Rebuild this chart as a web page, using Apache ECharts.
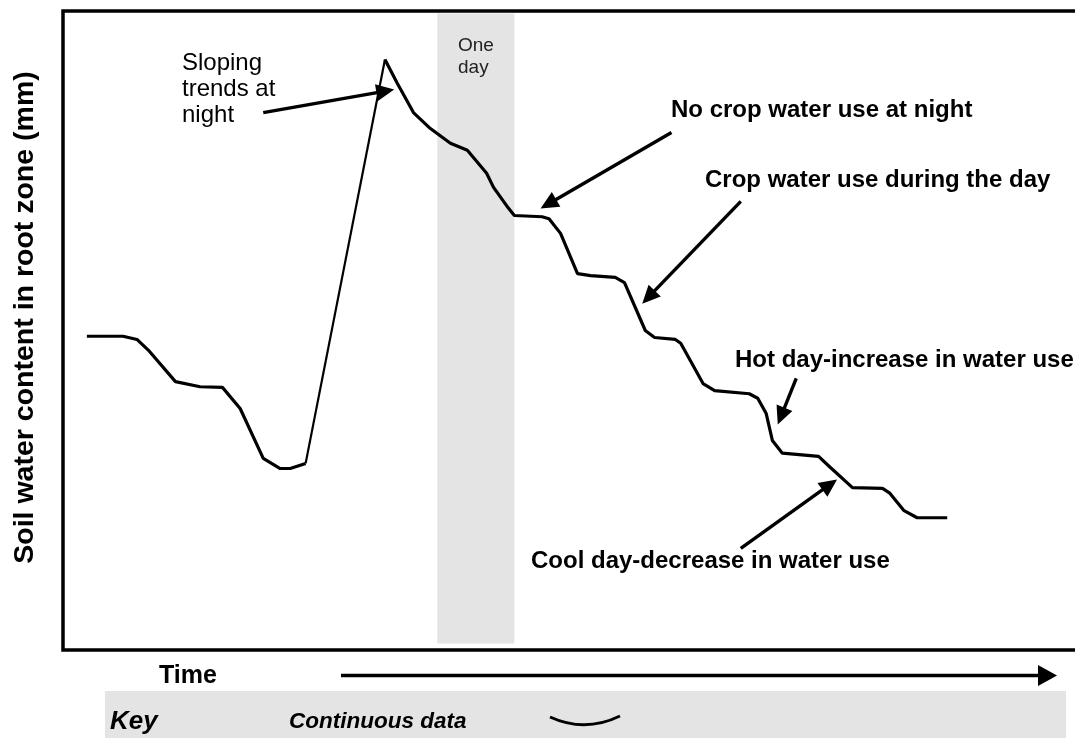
<!DOCTYPE html>
<html>
<head>
<meta charset="utf-8">
<title>Soil water content in root zone</title>
<script src="https://cdn.jsdelivr.net/npm/echarts@6/dist/echarts.min.js"></script>
<style>
  html, body { margin: 0; padding: 0; background: #fff; }
  #main { width: 1075px; height: 738px; }
</style>
</head>
<body>
<div id="main"></div>
<script>
// time in days, soil water content in mm
const dryingDays  = [0.45, 0.92, 1.10, 1.25, 1.60, 1.92, 2.21, 2.44, 2.74, 2.96, 3.09, 3.29];
const dryingWater = [49.1, 49.1, 48.6, 46.9, 42.0, 41.2, 41.1, 37.8, 30.0, 28.4, 28.4, 29.2];

// the refill after rain / irrigation
const refillDays  = [3.29, 4.32];
const refillWater = [29.2, 92.4];

const afterDays  = [4.32, 4.48, 4.69, 4.91, 5.17, 5.39, 5.64, 5.73, 5.92, 6.00,
                    6.36, 6.45, 6.60, 6.82, 6.99, 7.31, 7.43, 7.70, 7.82, 8.09,
                    8.16, 8.45, 8.60, 9.05, 9.16, 9.27, 9.35, 9.48, 9.95, 10.10,
                    10.39, 10.78, 10.87, 11.06, 11.23, 11.62];
const afterWater = [92.4, 88.7, 84.1, 81.6, 79.3, 78.2, 74.6, 72.4, 69.2, 68.0,
                    67.8, 67.5, 65.2, 58.9, 58.6, 58.3, 57.5, 50.0, 48.9, 48.6,
                    48.0, 41.7, 40.6, 40.1, 39.4, 37.0, 32.8, 30.8, 30.3, 28.6,
                    25.4, 25.3, 24.6, 21.8, 20.7, 20.7];

// shaded "one day" band
const bandDays = [5, 6];

// annotation arrows, in data units: [day, water]
const arrowFrom = [[2.74, 84.1], [8.04, 81.0], [8.94, 70.2], [9.66, 42.5], [8.94, 15.9]];
const arrowTo   = [[4.44, 87.7], [6.34, 69.1], [7.66, 54.2], [9.42, 35.3], [10.19, 26.7]];

const FONT = "'Liberation Sans', Arial, Helvetica, sans-serif";

function pairs(xs, ys) {
  return xs.map((x, i) => [x, ys[i]]);
}

let myChart = echarts.init(document.getElementById('main'));

let option = {
  animation: false,
  backgroundColor: '#fff',
  grid: {
    left: 63, top: 11, width: 1029, height: 639,
    outerBoundsMode: 'none',
    show: true, borderColor: '#000', borderWidth: 3.5
  },
  xAxis: { type: 'value', min: 0.14, max: 13.5, show: false },
  yAxis: {
    type: 'value', min: 0, max: 100,
    axisLine: { show: false }, axisTick: { show: false },
    axisLabel: { show: false }, splitLine: { show: false },
    name: 'Soil water content in root zone (mm)',
    nameLocation: 'middle', nameRotate: 90, nameGap: 23,
    nameTextStyle: {
      color: '#000', fontFamily: FONT, fontWeight: 'bold', fontSize: 28.5,
      padding: [0, 0, 0, 26]
    }
  },
  series: [
    {
      type: 'line', z: 1, data: [], silent: true,
      markArea: {
        silent: true,
        itemStyle: { color: '#e4e4e4' },
        data: [[{ xAxis: bandDays[0], yAxis: 1 }, { xAxis: bandDays[1], yAxis: 99.6 }]]
      }
    },
    {
      type: 'line', z: 3, symbol: 'none',
      data: pairs(dryingDays, dryingWater),
      lineStyle: { color: '#000', width: 3.2 }
    },
    {
      type: 'line', z: 3, symbol: 'none',
      data: pairs(refillDays, refillWater),
      lineStyle: { color: '#000', width: 2.2 }
    },
    {
      type: 'line', z: 3, symbol: 'none',
      data: pairs(afterDays, afterWater),
      lineStyle: { color: '#000', width: 3.2 }
    }
  ]
};
myChart.setOption(option);

// arrow = shaft + triangular head
function arrow(p0, p1, width, headLen, headHalf) {
  const dx = p1[0] - p0[0], dy = p1[1] - p0[1];
  const len = Math.hypot(dx, dy);
  const ux = dx / len, uy = dy / len;
  const bx = p1[0] - ux * headLen, by = p1[1] - uy * headLen;
  return [
    { type: 'line', z: 10, shape: { x1: p0[0], y1: p0[1], x2: bx + ux * 2, y2: by + uy * 2 },
      style: { stroke: '#000', lineWidth: width } },
    { type: 'polygon', z: 10,
      shape: { points: [[p1[0], p1[1]], [bx - uy * headHalf, by + ux * headHalf], [bx + uy * headHalf, by - ux * headHalf]] },
      style: { fill: '#000' } }
  ];
}

function label(text, x, y, font, extra) {
  return {
    type: 'text', z: 10,
    style: Object.assign({
      text: text, x: x, y: y, font: font, fill: '#000',
      align: 'left', verticalAlign: 'middle',
      textAlign: 'left', textVerticalAlign: 'middle'
    }, extra || {})
  };
}

let elements = [];
for (let i = 0; i < arrowFrom.length; i++) {
  const p0 = myChart.convertToPixel({ gridIndex: 0 }, arrowFrom[i]);
  const p1 = myChart.convertToPixel({ gridIndex: 0 }, arrowTo[i]);
  elements = elements.concat(arrow(p0, p1, 3.4, 18, 8.5));
}

const bold24 = 'bold 24px ' + FONT;
elements.push(label('Sloping\ntrends at\nnight', 182, 89.5, '24px ' + FONT, { lineHeight: 26 }));
elements.push(label('One\nday', 458, 56.5, '19px ' + FONT, { lineHeight: 22, fill: '#222' }));
elements.push(label('No crop water use at night', 671, 110, bold24));
elements.push(label('Crop water use during the day', 705, 180, bold24));
elements.push(label('Hot day-increase in water use', 735, 360, bold24));
elements.push(label('Cool day-decrease in water use', 531, 561, bold24));

// time axis arrow below the plot
elements.push({ type: 'line', shape: { x1: 341, y1: 675.5, x2: 1040, y2: 675.5 },
  style: { stroke: '#000', lineWidth: 3.5 } });
elements.push({ type: 'polygon', shape: { points: [[1038, 665], [1038, 686], [1057, 675.5]] },
  style: { fill: '#000' } });
elements.push(label('Time', 159, 676, 'bold 25px ' + FONT));

// key strip
elements.push({ type: 'rect', z: 0, shape: { x: 105, y: 691, width: 961, height: 50 },
  style: { fill: '#e4e4e4' } });
elements.push(label('Key', 110, 722, 'italic bold 26px ' + FONT));
elements.push(label('Continuous data', 289, 722, 'italic bold 22.5px ' + FONT));
elements.push({ type: 'bezierCurve', z: 10,
  shape: { x1: 550, y1: 717, x2: 620, y2: 716, cpx1: 585, cpy1: 733 },
  style: { stroke: '#000', lineWidth: 3, fill: null } });

myChart.setOption({ graphic: { elements: elements } });
</script>
</body>
</html>
